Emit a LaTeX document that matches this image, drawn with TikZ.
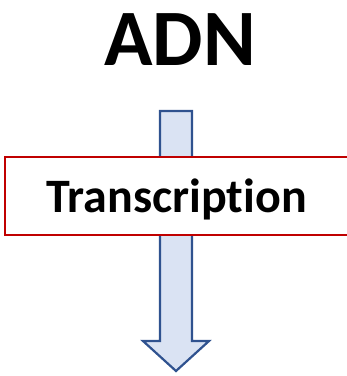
\documentclass[tikz,border=0pt]{standalone}
\usepackage{fontspec}
\setmainfont[Ligatures={NoCommon,NoRare,NoContextual}]{Carlito}
\begin{document}
\begin{tikzpicture}[x=1pt,y=-1pt,
  arrowbody/.style={draw=arrowblue,fill=arrowfill,line width=2.2pt,line join=miter},
  framebox/.style={draw=boxred,fill=white,line width=1.5pt},
  title/.style={font=\bfseries\fontsize{80}{80}\selectfont,inner sep=0pt,anchor=base},
  label/.style={font=\bfseries\fontsize{48}{48}\selectfont,inner sep=0pt,anchor=base}]
\definecolor{arrowblue}{RGB}{47,82,143}
\definecolor{arrowfill}{RGB}{218,227,243}
\definecolor{boxred}{RGB}{192,0,0}
\useasboundingbox (0,0) rectangle (347,376);
\begin{scope}
\clip (0,0) rectangle (347,376);
% downward block arrow
\draw[arrowbody] (160,111) -- (192,111) -- (192,341) -- (209,341) -- (176,371)
  -- (143,341) -- (160,341) -- cycle;
% process box
\draw[framebox] (5,157) rectangle (352,235);
\end{scope}
\node[title] (adn) at (180,65) {ADN};
\node[label] (tr) at (176.5,212) {Transcription};
\end{tikzpicture}
\end{document}
